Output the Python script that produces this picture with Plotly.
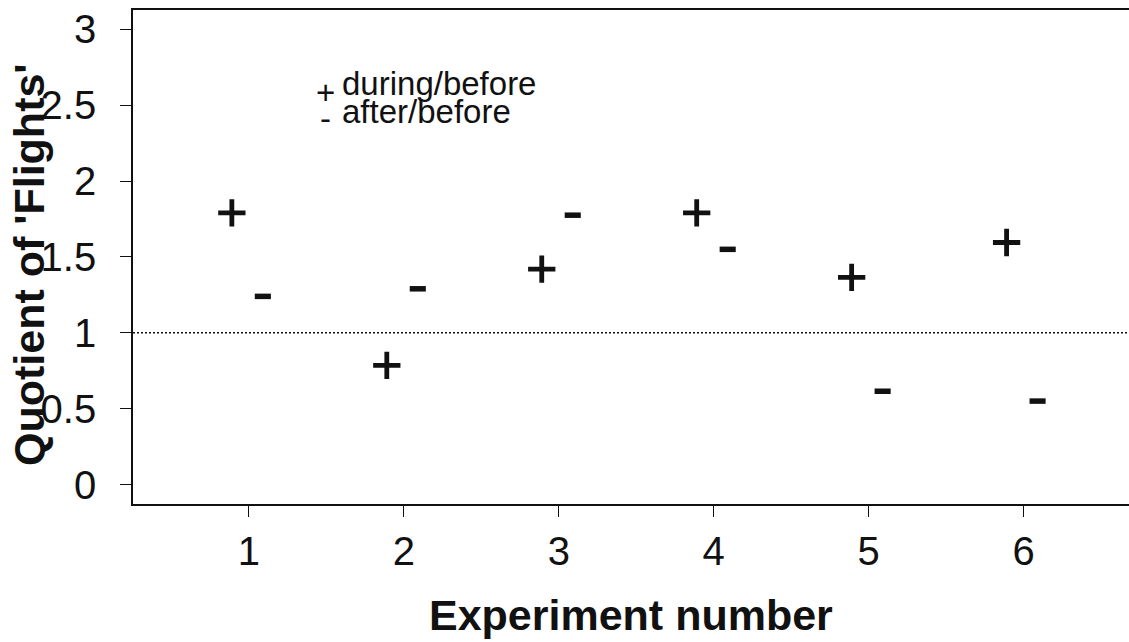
import plotly.graph_objects as go

# Experiment numbers and the two quotients measured for each
experiments = [1, 2, 3, 4, 5, 6]
during_before = [1.79, 0.785, 1.42, 1.79, 1.365, 1.595]
after_before = [1.24, 1.29, 1.775, 1.55, 0.615, 0.55]

y_ticks = [0, 0.5, 1, 1.5, 2, 2.5, 3]
y_tick_text = ["0", "0.5", "1", "1.5", "2", "2.5", "3"]

FONT = "Liberation Sans, Arial, sans-serif"
INK = "#111111"

# small horizontal offsets so the two symbols sit side by side
plus_x = [e - 0.11 for e in experiments]
minus_x = [e + 0.09 for e in experiments]

fig = go.Figure()

fig.add_trace(go.Scatter(
    x=plus_x, y=during_before, mode="markers", name="during/before",
    marker=dict(symbol="cross-thin", size=19.5, color=INK,
                line=dict(color=INK, width=4.8)),
    showlegend=False,
))
fig.add_trace(go.Scatter(
    x=minus_x, y=after_before, mode="markers", name="after/before",
    marker=dict(symbol="line-ew", size=11.5, color=INK,
                line=dict(color=INK, width=5.5)),
    showlegend=False,
))

# reference line at quotient 1
fig.add_shape(type="line", xref="paper", x0=0, x1=1, yref="y", y0=1, y1=1,
              line=dict(color=INK, width=1.4, dash="2px,2px"))

annotations = [
    # key
    dict(text="+", x=0.193, y=0.832, xanchor="center", yanchor="middle"),
    dict(text="-", x=0.193, y=0.78, xanchor="center", yanchor="middle"),
    dict(text="during/before", x=0.208, y=0.852, xanchor="left", yanchor="middle"),
    dict(text="after/before", x=0.208, y=0.795, xanchor="left", yanchor="middle"),
]
for a in annotations:
    a.update(xref="paper", yref="paper", showarrow=False,
             font=dict(family=FONT, size=33, color=INK))

# axis titles
annotations.append(dict(text="<b>Experiment number</b>", xref="paper", yref="paper",
                        x=0.5, y=0, xanchor="center", yanchor="middle", yshift=-111,
                        showarrow=False, font=dict(family=FONT, size=43, color=INK)))
annotations.append(dict(text="<b>Quotient of 'Flights'</b>", xref="paper", yref="paper",
                        x=0, y=0.5, xanchor="center", yanchor="middle", xshift=-104,
                        yshift=-8, textangle=-90, showarrow=False,
                        font=dict(family=FONT, size=43, color=INK)))

fig.update_layout(
    width=1129, height=642,
    margin=dict(l=133, r=0, t=10, b=138),
    paper_bgcolor="white", plot_bgcolor="white",
    font=dict(family=FONT, color=INK),
    annotations=annotations,
    xaxis=dict(range=[0.252, 6.68], tickvals=experiments,
               ticktext=[str(e) for e in experiments],
               showgrid=False, zeroline=False,
               showline=True, mirror=True, linecolor=INK, linewidth=1.6,
               ticks="outside", ticklen=11, tickwidth=1.4, tickcolor=INK,
               ticklabelstandoff=0,
               tickfont=dict(family=FONT, size=40, color=INK)),
    yaxis=dict(range=[-0.128, 3.127], tickvals=y_ticks, ticktext=y_tick_text,
               showgrid=False, zeroline=False,
               showline=True, mirror=False, linecolor=INK, linewidth=1.6,
               ticks="outside", ticklen=11, tickwidth=1.4, tickcolor=INK,
               ticklabelstandoff=16,
               tickfont=dict(family=FONT, size=40, color=INK)),
)

fig.write_html("out.html")
